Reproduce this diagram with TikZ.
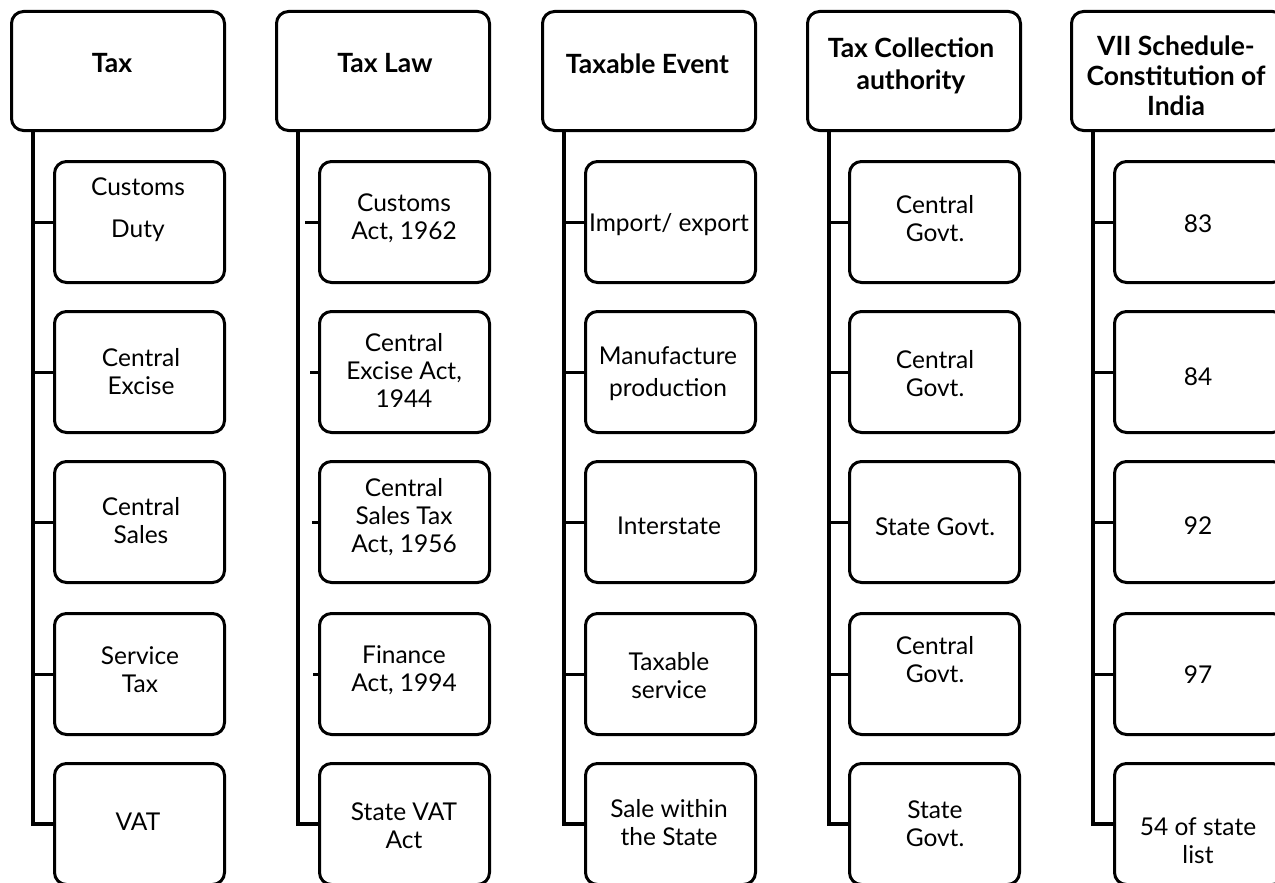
\documentclass[tikz,border=0pt]{standalone}
\usepackage{fontspec}
\setmainfont{Lato}
\tikzset{
  box/.style={draw, line width=3pt, rounded corners=12pt, minimum width=170pt, minimum height=121pt, anchor=north west, inner sep=0pt},
  hbox/.style={box, minimum width=213pt, minimum height=119pt},
  lbl/.style={font=\fontsize{24.5}{28}\selectfont, align=center, inner sep=0pt},
  hlbl/.style={font=\bfseries\fontsize{26.5}{30}\selectfont, align=center, inner sep=0pt},
  trunk/.style={line width=4pt},
  conn/.style={line width=3pt}
}
\begin{document}
\begin{tikzpicture}[x=1pt,y=-1pt]
\clip (0,0) rectangle (1275,883);
\fill[white] (0,0) rectangle (1275,883);
% ---------- Column 1 ----------
\node[hbox] (h1) at (10,10) {};
\node[hlbl] (h1t) at (112,63) {Tax};
\node[box] (a1) at (53,160) {};
\node[box] (a2) at (53,310) {};
\node[box] (a3) at (53,460) {};
\node[box] (a4) at (53,612) {};
\node[box] (a5) at (53,762) {};
\node[lbl, font=\fontsize{24.5}{42}\selectfont] (a1t) at (138,210) {Customs\\Duty};
\node[lbl] (a2t) at (141,372) {Central\\Excise};
\node[lbl] (a3t) at (141,521) {Central\\Sales};
\node[lbl] (a4t) at (140,670) {Service\\Tax};
\node[lbl] (a5t) at (138,822) {VAT};
\draw[trunk] (h1.south west) ++(22.5,0) coordinate (tr1) |- (a5.west);
\foreach \n in {a1,a2,a3,a4}{\draw[conn] (\n.west) -- (\n.west -| tr1);}
% ---------- Column 2 ----------
\node[hbox] (h2) at (275,10) {};
\node[hlbl] (h2t) at (385,63) {Tax Law};
\node[box] (b1) at (318,160) {};
\node[box] (b2) at (318,310) {};
\node[box] (b3) at (318,460) {};
\node[box] (b4) at (318,612) {};
\node[box] (b5) at (318,762) {};
\node[lbl] (b1t) at (404,218) {Customs\\Act, 1962};
\node[lbl] (b2t) at (404,370) {Central\\Excise Act,\\1944};
\node[lbl] (b3t) at (404,517) {Central\\Sales Tax\\Act, 1956};
\node[lbl] (b4t) at (404,670) {Finance\\Act, 1994};
\node[lbl] (b5t) at (404,826) {State VAT\\Act};
\draw[trunk] (h2.south west) ++(22.5,0) |- (b5.west);
\draw[conn] (b1.west) -- ++(-13,0);
\draw[conn] (b2.west) -- ++(-8,0);
\draw[conn] (b3.west) -- ++(-6,0);
\draw[conn] (b4.west) -- ++(-5,0);
% ---------- Column 3 ----------
\node[hbox] (h3) at (541,10) {};
\node[hlbl] (h3t) at (647.5,64) {Taxable Event};
\node[box] (c1) at (584,160) {};
\node[box] (c2) at (584,310) {};
\node[box] (c3) at (584,460) {};
\node[box] (c4) at (584,612) {};
\node[box] (c5) at (584,762) {};
\node[lbl] (c1t) at (669,225) {Import/ export};
\node[lbl, font=\fontsize{24.5}{32}\selectfont] (c2t) at (668,374) {Manufacture\\production};
\node[lbl] (c3t) at (669,526) {Interstate};
\node[lbl] (c4t) at (669,676) {Taxable\\service};
\node[lbl] (c5t) at (669,823) {Sale within\\the State};
\draw[trunk] (h3.south west) ++(22.5,0) coordinate (tr3) |- (c5.west);
\foreach \n in {c1,c2,c3,c4}{\draw[conn] (\n.west) -- (\n.west -| tr3);}
% ---------- Column 4 ----------
\node[hbox] (h4) at (806,10) {};
\node[hlbl, font=\bfseries\fontsize{26.5}{32}\selectfont] (h4t) at (911,66) {Tax Collection\\authority};
\node[box] (d1) at (848,160) {};
\node[box] (d2) at (848,310) {};
\node[box] (d3) at (848,460) {};
\node[box] (d4) at (848,612) {};
\node[box] (d5) at (848,762) {};
\node[lbl] (d1t) at (935,219) {Central\\Govt.};
\node[lbl] (d2t) at (935,374) {Central\\Govt.};
\node[lbl] (d3t) at (935,527) {State Govt.};
\node[lbl] (d4t) at (935,660) {Central\\Govt.};
\node[lbl] (d5t) at (935,824) {State\\Govt.};
\draw[trunk] (h4.south west) ++(22.5,0) coordinate (tr4) |- (d5.west);
\foreach \n in {d1,d2,d3,d4}{\draw[conn] (\n.west) -- (\n.west -| tr4);}
% ---------- Column 5 ----------
\node[hbox] (h5) at (1070,10) {};
\node[hlbl] (h5t) at (1176,76) {VII Schedule-\\Constitution of\\India};
\node[box] (e1) at (1113,160) {};
\node[box] (e2) at (1113,310) {};
\node[box] (e3) at (1113,460) {};
\node[box] (e4) at (1113,612) {};
\node[box] (e5) at (1113,762) {};
\node[lbl] (e1t) at (1198,224) {83};
\node[lbl] (e2t) at (1198,377) {84};
\node[lbl] (e3t) at (1198,526) {92};
\node[lbl] (e4t) at (1198,675) {97};
\node[lbl] (e5t) at (1198,841) {54 of state\\list};
\draw[trunk] (h5.south west) ++(22.5,0) coordinate (tr5) |- (e5.west);
\foreach \n in {e1,e2,e3,e4}{\draw[conn] (\n.west) -- (\n.west -| tr5);}
\end{tikzpicture}
\end{document}
